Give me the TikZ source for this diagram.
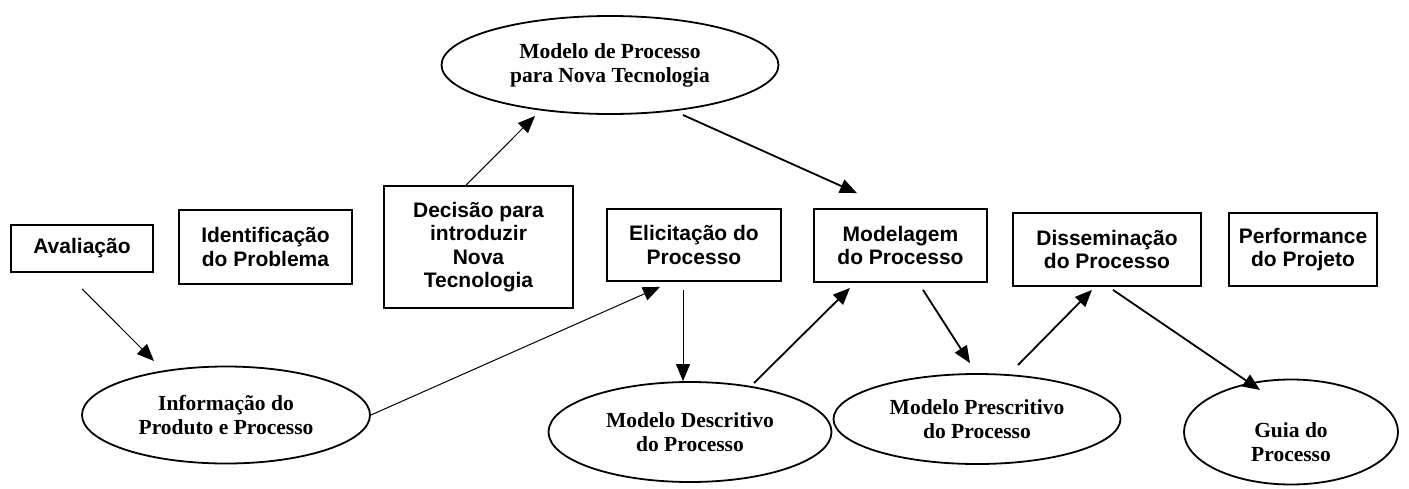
\documentclass[tikz,border=0pt]{standalone}
\usepackage{fontspec}
\setmainfont{Liberation Serif}
\setsansfont{Liberation Sans}
\usetikzlibrary{arrows.meta,shapes.geometric}
\tikzset{
  boxnode/.style={draw, line width=1.8pt, rectangle, inner sep=0pt, align=center,
    font=\sffamily\bfseries\fontsize{21}{23.5}\selectfont},
  ellnode/.style={draw, line width=1.8pt, ellipse, inner sep=0pt, align=center,
    font=\rmfamily\bfseries\fontsize{21.5}{24}\selectfont},
  lbl/.style={align=center, font=\rmfamily\bfseries\fontsize{21.5}{24}\selectfont},
  thinarrow/.style={line width=1pt, -{Triangle[length=17pt,width=14pt]}},
  thickarrow/.style={line width=1.8pt, -{Triangle[length=17pt,width=14pt]}},
}
\begin{document}
\begin{tikzpicture}[x=1pt,y=-1pt]
\useasboundingbox (0,0) rectangle (1409,488);
% boxes
\node[boxnode, minimum width=142pt, minimum height=47pt] (aval) at (82,248.5) {Avaliação};
\node[boxnode, minimum width=173pt, minimum height=74pt] (ident) at (265.5,247) {Identificação\\do Problema};
\node[boxnode, minimum width=189pt, minimum height=122pt] (decis) at (478.5,247) {Decisão para\\introduzir\\Nova\\Tecnologia};
\node[boxnode, minimum width=174pt, minimum height=72pt] (elic) at (694,245) {Elicitação do\\Processo};
\node[boxnode, minimum width=173pt, minimum height=73pt] (model) at (900.5,245.5) {Modelagem\\do Processo};
\node[boxnode, minimum width=188pt, minimum height=73pt] (dissem) at (1107,249.5) {Disseminação\\do Processo};
\node[boxnode, minimum width=148pt, minimum height=73pt] (perf) at (1303,249.5) {Performance\\do Projeto};
% ellipses
\node[ellnode, minimum width=337pt, minimum height=98pt] (mproc) at (610,65) {Modelo de Processo\\para Nova Tecnologia};
\node[ellnode, minimum width=288pt, minimum height=97pt] (info) at (226,415) {Informação do\\Produto e Processo};
\node[ellnode, minimum width=283pt, minimum height=100pt] (desc) at (690,432) {Modelo Descritivo\\do Processo};
\node[ellnode, minimum width=287pt, minimum height=90pt] (presc) at (977,419) {Modelo Prescritivo\\do Processo};
\node[ellnode, minimum width=214pt, minimum height=105pt,
  label={[lbl, yshift=-10pt]center:{Guia do\\Processo}}] (guia) at (1291,432) {};
% connectors
\draw[thinarrow] ([yshift=-16pt]aval.south) -- ([xshift=-72pt,yshift=54pt]info.center);
\draw[thinarrow] ([xshift=-12.5pt]decis.north) -- ([xshift=-75pt,yshift=-51pt]mproc.center);
\draw[thickarrow] ([xshift=73pt,yshift=-50pt]mproc.center) -- ([xshift=-43.5pt,yshift=15pt]model.north);
\draw[thinarrow] (info.east) -- ([xshift=-34pt,yshift=-5pt]elic.south);
\draw[thinarrow] ([xshift=-11pt,yshift=-8pt]elic.south) -- ([xshift=-7pt]desc.north);
\draw[thickarrow] ([xshift=64pt,yshift=49pt]desc.center) -- ([xshift=-50.5pt,yshift=-5pt]model.south);
\draw[thickarrow] ([xshift=22.5pt,yshift=-7pt]model.south) -- ([xshift=-7pt,yshift=10pt]presc.north);
\draw[thickarrow] ([xshift=41pt,yshift=54pt]presc.center) -- ([xshift=-15pt,yshift=-3pt]dissem.south);
\draw[thickarrow] ([xshift=6pt,yshift=-3pt]dissem.south) -- ([xshift=-31pt,yshift=42pt]guia.center);
\end{tikzpicture}
\end{document}
